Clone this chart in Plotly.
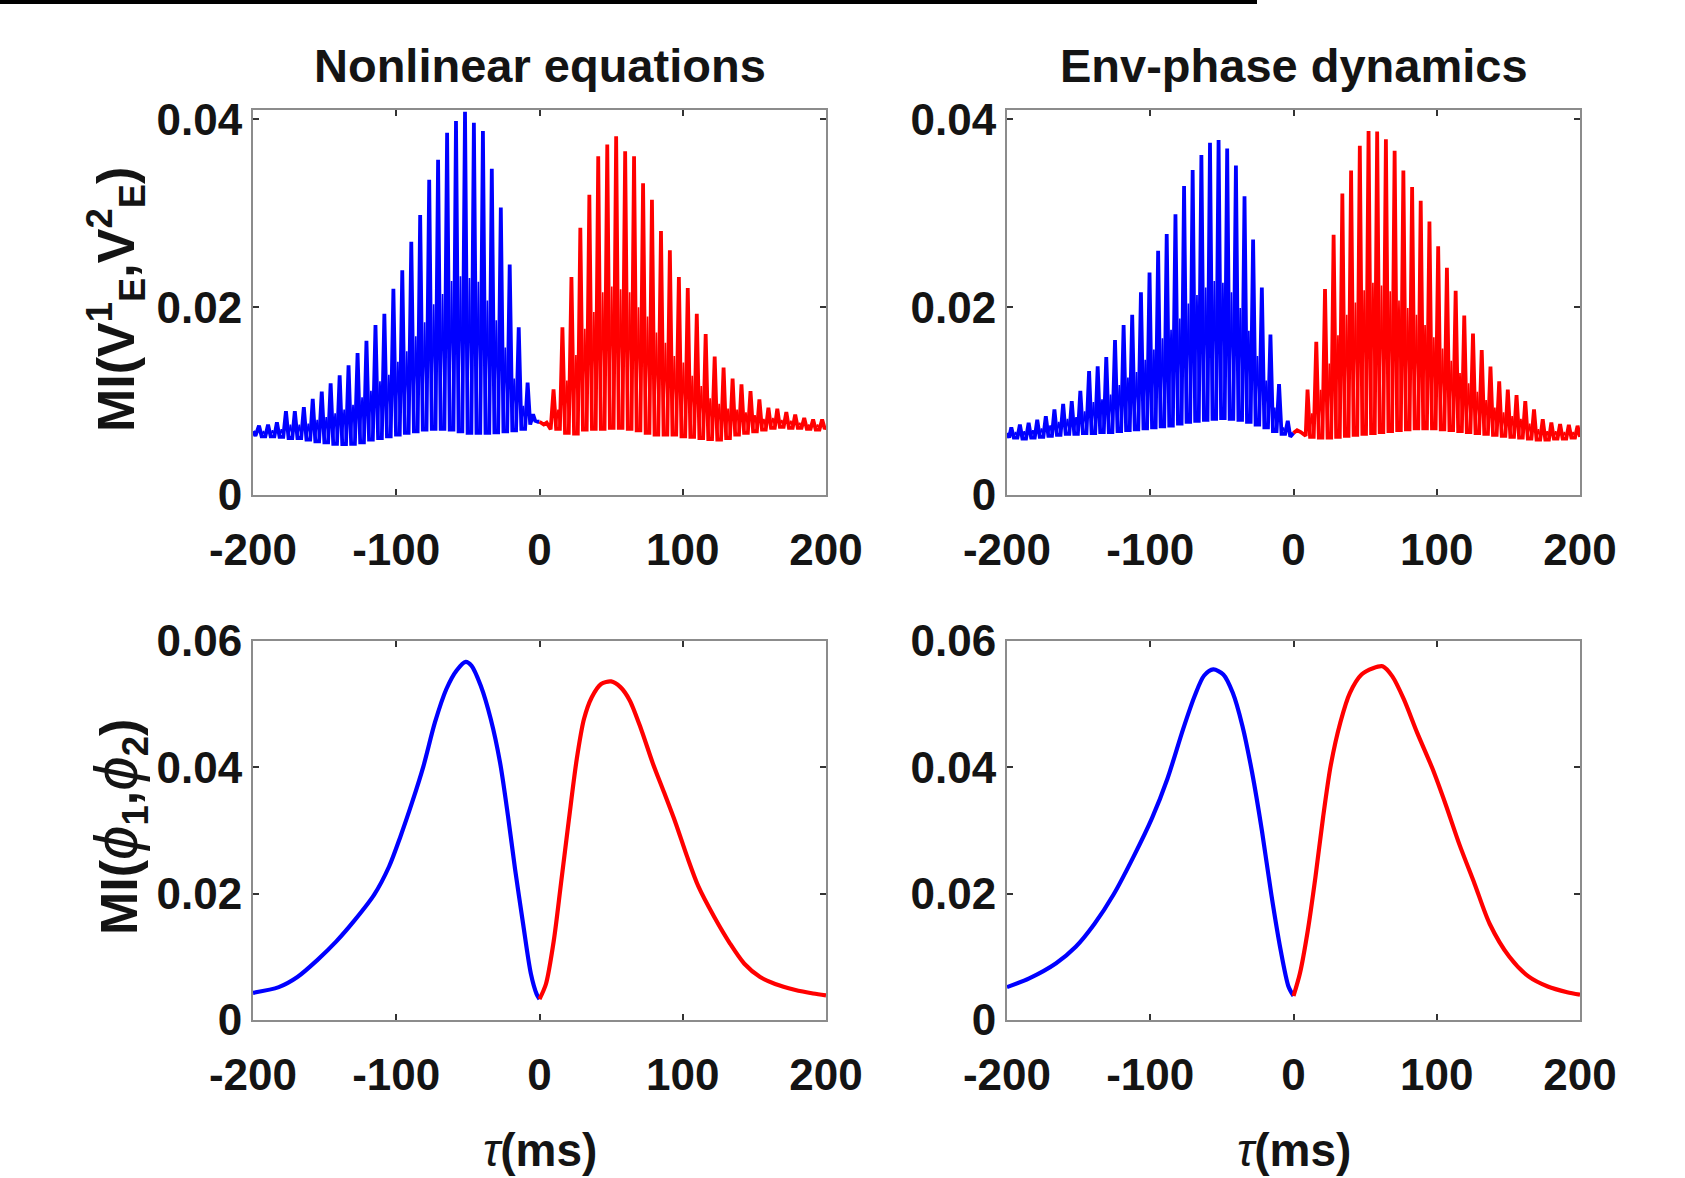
import plotly.graph_objects as go

# ---------------- data ----------------
# Top-left panel (Nonlinear equations), MI(V_E^1, V_E^2)
tl_blue_head_tau = [-200.0, -198.3]
tl_blue_head = [0.0068, 0.0063]
tl_blue_peak_tau = [-195.8, -189.5, -183.3, -177.0, -170.8, -164.5, -158.3, -152.0, -145.8, -139.5,
                    -133.3, -127.0, -120.8, -114.5, -108.3, -102.0, -95.8, -89.5, -83.3, -77.0,
                    -70.8, -64.5, -58.3, -52.0, -45.8, -39.5, -33.3, -27.0, -20.8, -14.5, -8.3]
tl_blue_peak = [0.00739, 0.00750, 0.00775, 0.00893, 0.00893, 0.00936, 0.01025, 0.01100, 0.01189, 0.01275,
                0.01382, 0.01511, 0.01643, 0.01811, 0.01929, 0.02196, 0.02393, 0.02696, 0.02982, 0.03357,
                0.03571, 0.03857, 0.03982, 0.04082, 0.03964, 0.03875, 0.03475, 0.03061, 0.02454, 0.01786, 0.01196]
tl_blue_trough = [0.00625, 0.00625, 0.00618, 0.00607, 0.00607, 0.00589, 0.00571, 0.00561, 0.00546, 0.00543,
                  0.00546, 0.00561, 0.00589, 0.00607, 0.00625, 0.00643, 0.00661, 0.00679, 0.00696, 0.00704,
                  0.00704, 0.00696, 0.00679, 0.00661, 0.00661, 0.00661, 0.00668, 0.00679, 0.00689, 0.00704, 0.00750]
tl_blue_hump = [0.0068, 0.0069, 0.0070, 0.0075, 0.0075, 0.0076, 0.0080, 0.0083, 0.0087, 0.0091,
                0.0096, 0.0104, 0.0111, 0.0121, 0.0128, 0.0142, 0.0153, 0.0169, 0.0184, 0.0203,
                0.0214, 0.0228, 0.0233, 0.0231, 0.0227, 0.0207, 0.0186, 0.0157, 0.0124, 0.0095]
tl_blue_tail_tau = [-4.5, -3.0, -1.0, 0.0]
tl_blue_tail = [0.0086, 0.0079, 0.0078, 0.0078]

tl_red_head_tau = [0.0, 3.0, 5.0, 7.8]
tl_red_head = [0.0078, 0.0075, 0.0077, 0.0070]
tl_red_peak_tau = [9.8, 16.0, 22.3, 28.5, 34.8, 41.0, 47.3, 53.5, 59.8, 66.0,
                   72.3, 78.5, 84.8, 91.0, 97.3, 103.5, 109.8, 116.0, 122.3, 128.5,
                   134.8, 141.0, 147.3, 153.5, 159.8, 166.0, 172.3, 178.5, 184.8, 191.0, 197.3]
tl_red_peak = [0.01125, 0.01786, 0.02321, 0.02846, 0.03196, 0.03607, 0.03732, 0.03821, 0.03661, 0.03607,
               0.03321, 0.03143, 0.02811, 0.02607, 0.02321, 0.02204, 0.01929, 0.01714, 0.01475, 0.01357,
               0.01239, 0.01179, 0.01107, 0.01018, 0.00929, 0.00918, 0.00882, 0.00857, 0.00821, 0.00804, 0.00804]
tl_red_trough = [0.00704, 0.00661, 0.00654, 0.00696, 0.00704, 0.00704, 0.00714, 0.00714, 0.00704, 0.00689,
                 0.00661, 0.00643, 0.00643, 0.00643, 0.00625, 0.00618, 0.00607, 0.00596, 0.00589, 0.00607,
                 0.00643, 0.00661, 0.00679, 0.00696, 0.00714, 0.00725, 0.00714, 0.00714, 0.00704, 0.00696, 0.00704]
tl_red_hump = [0.0091, 0.0122, 0.0149, 0.0177, 0.0195, 0.0216, 0.0222, 0.0219, 0.0216, 0.0200,
               0.0190, 0.0173, 0.0162, 0.0148, 0.0141, 0.0127, 0.0116, 0.0103, 0.0097, 0.0092,
               0.0091, 0.0088, 0.0085, 0.0081, 0.0082, 0.0080, 0.0079, 0.0077, 0.0075, 0.0075]
tl_red_tail_tau = [200.0]
tl_red_tail = [0.0072]

# Top-right panel (Env-phase dynamics)
tr_blue_head_tau = [-200.0, -198.5]
tr_blue_head = [0.0066, 0.0061]
tr_blue_peak_tau = [-197.0, -191.0, -184.9, -178.9, -172.9, -166.9, -160.8, -154.8, -148.8, -142.7,
                    -136.7, -130.7, -124.6, -118.6, -112.6, -106.5, -100.5, -94.5, -88.5, -82.4,
                    -76.4, -70.4, -64.3, -58.3, -52.3, -46.3, -40.2, -34.2, -28.2, -22.1,
                    -16.1, -10.1, -4.0]
tr_blue_peak = [0.0072, 0.0075, 0.0077, 0.0080, 0.0084, 0.0091, 0.0097, 0.0100, 0.0111, 0.0132,
                0.0137, 0.0147, 0.0165, 0.0181, 0.0192, 0.0216, 0.0237, 0.0260, 0.0278, 0.0299,
                0.0329, 0.0346, 0.0362, 0.0375, 0.0378, 0.0369, 0.0351, 0.0318, 0.0272, 0.0221,
                0.0171, 0.0118, 0.0079]
tr_blue_trough = [0.0061, 0.0060, 0.0061, 0.0062, 0.0063, 0.0064, 0.0065, 0.0065, 0.0066, 0.0066,
                  0.0067, 0.0067, 0.0068, 0.0069, 0.0070, 0.0071, 0.0072, 0.0073, 0.0074, 0.0076,
                  0.0078, 0.0079, 0.0080, 0.0081, 0.0082, 0.0081, 0.0080, 0.0078, 0.0075, 0.0072,
                  0.0068, 0.0065, 0.0062]
tr_blue_hump = [0.0067, 0.0068, 0.0069, 0.0071, 0.0074, 0.0078, 0.0081, 0.0083, 0.0089, 0.0099,
                0.0102, 0.0107, 0.0117, 0.0125, 0.0131, 0.0144, 0.0155, 0.0167, 0.0176, 0.0188,
                0.0204, 0.0213, 0.0221, 0.0228, 0.0226, 0.0216, 0.0199, 0.0175, 0.0148, 0.0122,
                0.0093, 0.0072]
tr_blue_tail_tau = [0.0]
tr_blue_tail = [0.0066]

tr_red_head_tau = [0.0, 2.5, 5.0, 8.5]
tr_red_head = [0.0066, 0.0069, 0.0067, 0.0063]
tr_red_peak_tau = [9.8, 15.9, 22.0, 28.0, 34.1, 40.2, 46.3, 52.4, 58.4, 64.5,
                   70.6, 76.7, 82.8, 88.8, 94.9, 101.0, 107.1, 113.2, 119.2, 125.3,
                   131.4, 137.5, 143.6, 149.6, 155.7, 161.8, 167.9, 174.0, 180.0, 186.1,
                   192.2, 198.3]
tr_red_peak = [0.01123, 0.01632, 0.02193, 0.02772, 0.03211, 0.03456, 0.03719, 0.03877, 0.03870, 0.03789,
               0.03667, 0.03456, 0.03281, 0.03133, 0.02912, 0.02649, 0.02421, 0.02175, 0.01912, 0.01719,
               0.01544, 0.01368, 0.01211, 0.01123, 0.01063, 0.01000, 0.00912, 0.00807, 0.00772, 0.00754,
               0.00747, 0.00737]
tr_red_trough = [0.0062, 0.0061, 0.0061, 0.0062, 0.0063, 0.0064, 0.0065, 0.0066, 0.0067, 0.0068,
                 0.0069, 0.0070, 0.0071, 0.0071, 0.0071, 0.0070, 0.0069, 0.0068, 0.0067, 0.0066,
                 0.0065, 0.0064, 0.0063, 0.0062, 0.0061, 0.0060, 0.0059, 0.0059, 0.0060, 0.0060,
                 0.0061, 0.0062]
tr_red_hump = [0.0087, 0.0112, 0.0140, 0.0170, 0.0192, 0.0205, 0.0218, 0.0226, 0.0223, 0.0217,
               0.0207, 0.0199, 0.0192, 0.0181, 0.0168, 0.0156, 0.0143, 0.0130, 0.0119, 0.0110,
               0.0101, 0.0093, 0.0088, 0.0084, 0.0081, 0.0076, 0.0070, 0.0068, 0.0068, 0.0067,
               0.0067]
tr_red_tail_tau = [200.0]
tr_red_tail = [0.0064]

# Bottom-left panel (Nonlinear equations), MI(phi_1, phi_2)
bl_blue_tau = [-200, -182, -169, -155.5, -142, -129, -115.5, -105, -97, -89, -81, -73, -65, -58,
               -51.5, -47.5, -41, -34, -27.5, -22, -17, -11.5, -6, -2, 0]
bl_blue = [0.0043, 0.0052, 0.0068, 0.0094, 0.0124, 0.0158, 0.0198, 0.0243, 0.0291, 0.0344, 0.0402,
           0.0471, 0.0524, 0.0553, 0.0567, 0.0561, 0.0529, 0.0476, 0.0407, 0.0323, 0.0238, 0.0153,
           0.0073, 0.0041, 0.0033]
bl_red_tau = [0, 4.5, 10, 15, 20.5, 26, 31, 36.5, 43, 50, 56.5, 63, 71, 79, 87, 95, 103, 111, 122,
              133, 143, 154, 164.5, 178, 191, 200]
bl_red = [0.0033, 0.0057, 0.0126, 0.0216, 0.0317, 0.0413, 0.0476, 0.0511, 0.0532, 0.0536, 0.0527,
          0.0506, 0.0460, 0.0407, 0.0360, 0.0312, 0.0259, 0.0211, 0.0163, 0.0121, 0.0089, 0.0068,
          0.0057, 0.0048, 0.0042, 0.0039]

# Bottom-right panel (Env-phase dynamics)
br_blue_tau = [-200, -184.5, -165.7, -152, -139, -125.5, -112, -98.7, -88, -77, -69, -62.5, -56, -49,
               -42.4, -35.7, -29, -22, -15.5, -9, -3.5, 0]
br_blue = [0.0052, 0.0066, 0.0090, 0.0116, 0.0152, 0.0199, 0.0257, 0.0320, 0.0382, 0.0461, 0.0513,
           0.0545, 0.0555, 0.0547, 0.0518, 0.0466, 0.0393, 0.0299, 0.0199, 0.0111, 0.0053, 0.0038]
br_red_tau = [0, 4.5, 10, 15.3, 20.6, 26, 32.7, 39.4, 47.5, 55.5, 62.2, 69, 77, 86.3, 97, 106.4,
              115.8, 126.5, 137, 150.7, 164, 177.5, 191, 200]
br_red = [0.0038, 0.0074, 0.0142, 0.0226, 0.0320, 0.0403, 0.0471, 0.0518, 0.0547, 0.0557, 0.0560,
          0.0544, 0.0508, 0.0455, 0.0398, 0.0340, 0.0278, 0.0215, 0.0152, 0.0100, 0.0069, 0.0053,
          0.0044, 0.0040]

# tick labels / titles
x_tickvals = [-200, -100, 0, 100, 200]
x_ticktext = ["-200", "-100", "0", "100", "200"]
y_top_tickvals = [0, 0.02, 0.04]
y_top_ticktext = ["0", "0.02", "0.04"]
y_bot_tickvals = [0, 0.02, 0.04, 0.06]
y_bot_ticktext = ["0", "0.02", "0.04", "0.06"]
col_titles = ["Nonlinear equations", "Env-phase dynamics"]


# ---------------- helpers ----------------
def spikes(head_tau, head, pk_tau, pk, tr, period, tail_tau, tail):
    """Main strokes of the curve: each cycle's tall peak and the trough level around it."""
    xs, ys = list(head_tau), list(head)
    n = len(pk_tau)
    for i in range(n):
        p = pk_tau[i]
        xs.append(p); ys.append(pk[i])
        xs.append(p + 0.29 * period); ys.append(tr[i])
        if i < n - 1:
            xs.append(p + 0.71 * period); ys.append(tr[i])
    xs += list(tail_tau); ys += list(tail)
    return xs, ys


def humps(pk_tau, tr, hm, period):
    """Secondary (smaller) hump of each cycle, between two tall peaks."""
    xs, ys = [], []
    for i in range(len(hm)):
        p = pk_tau[i]
        xs += [p + 0.27 * period, p + 0.5 * period, p + 0.73 * period, None]
        ys += [tr[i], hm[i], tr[i], None]
    return xs, ys


BLUE = "#0000ff"
RED = "#ff0000"
FONT = "Liberation Sans, Arial, Helvetica, sans-serif"
INK = "#141414"

fig = go.Figure()

top_series = [
    (tl_blue_head_tau, tl_blue_head, tl_blue_peak_tau, tl_blue_peak, tl_blue_trough, tl_blue_hump,
     6.25, tl_blue_tail_tau, tl_blue_tail, BLUE, "x", "y"),
    (tl_red_head_tau, tl_red_head, tl_red_peak_tau, tl_red_peak, tl_red_trough, tl_red_hump,
     6.25, tl_red_tail_tau, tl_red_tail, RED, "x", "y"),
    (tr_blue_head_tau, tr_blue_head, tr_blue_peak_tau, tr_blue_peak, tr_blue_trough, tr_blue_hump,
     6.03, tr_blue_tail_tau, tr_blue_tail, BLUE, "x2", "y2"),
    (tr_red_head_tau, tr_red_head, tr_red_peak_tau, tr_red_peak, tr_red_trough, tr_red_hump,
     6.08, tr_red_tail_tau, tr_red_tail, RED, "x2", "y2"),
]
for (ht, h, pt, pk, tr, hm, T, tt, tl, col, xa, ya) in top_series:
    hx, hy = humps(pt, tr, hm, T)
    fig.add_trace(go.Scatter(x=hx, y=hy, mode="lines", line=dict(color=col, width=1.7),
                             connectgaps=False, xaxis=xa, yaxis=ya, showlegend=False, hoverinfo="skip"))
    sx, sy = spikes(ht, h, pt, pk, tr, T, tt, tl)
    fig.add_trace(go.Scatter(x=sx, y=sy, mode="lines", line=dict(color=col, width=3.8),
                             xaxis=xa, yaxis=ya, showlegend=False, hoverinfo="skip"))

for xs, ys, col, xa, ya in [
    (bl_blue_tau, bl_blue, BLUE, "x3", "y3"),
    (bl_red_tau, bl_red, RED, "x3", "y3"),
    (br_blue_tau, br_blue, BLUE, "x4", "y4"),
    (br_red_tau, br_red, RED, "x4", "y4"),
]:
    fig.add_trace(go.Scatter(x=xs, y=ys, mode="lines",
                             line=dict(color=col, width=4.2, shape="spline", smoothing=0.8),
                             xaxis=xa, yaxis=ya, showlegend=False, hoverinfo="skip"))

W, H = 1685, 1178
colx = [(253 / W, 826 / W), (1007 / W, 1580 / W)]
rowy = [(1 - 495 / H, 1 - 110 / H), (1 - 1020 / H, 1 - 641 / H)]

tickfont = dict(family=FONT, size=44, color=INK, weight="bold")
common = dict(showline=True, linecolor="#8c8c8c", linewidth=2, mirror="ticks",
              ticks="inside", ticklen=6, tickwidth=1.5, tickcolor="#333333",
              showgrid=False, zeroline=False, tickfont=tickfont, fixedrange=True,
              automargin=False)

layout_axes = {}
axnames = [("xaxis", "yaxis", 0, 0), ("xaxis2", "yaxis2", 1, 0),
           ("xaxis3", "yaxis3", 0, 1), ("xaxis4", "yaxis4", 1, 1)]
for i, (xn, yn, c, r) in enumerate(axnames):
    anchor_y = "y" if i == 0 else "y%d" % (i + 1)
    anchor_x = "x" if i == 0 else "x%d" % (i + 1)
    layout_axes[xn] = dict(domain=list(colx[c]), anchor=anchor_y, range=[-200, 200],
                           tickmode="array", tickvals=x_tickvals, ticktext=x_ticktext,
                           ticklabelstandoff=15, **common)
    if r == 0:
        yv, yt, yr = y_top_tickvals, y_top_ticktext, [0, 0.041]
    else:
        yv, yt, yr = y_bot_tickvals, y_bot_ticktext, [0, 0.06]
    layout_axes[yn] = dict(domain=list(rowy[r]), anchor=anchor_x, range=yr,
                           tickmode="array", tickvals=yv, ticktext=yt,
                           ticklabelstandoff=0, **common)

annotations = []
title_font = dict(family=FONT, size=47, color=INK, weight="bold")
for c in range(2):
    cx = (colx[c][0] + colx[c][1]) / 2
    annotations.append(dict(text=col_titles[c], x=cx, y=1 - 65 / H, xref="paper", yref="paper",
                            xanchor="center", yanchor="middle", showarrow=False, font=title_font))
    annotations.append(dict(text="<span style='font-weight:normal'><i>τ</i></span>(ms)",
                            x=cx, y=1 - 1150 / H,
                            xref="paper", yref="paper", xanchor="center", yanchor="middle",
                            showarrow=False, font=dict(family=FONT, size=46, color=INK, weight="bold")))

ylab_font = dict(family=FONT, size=52, color=INK, weight="bold")
annotations.append(dict(text="MI(V<sup>1</sup><sub>E</sub>,V<sup>2</sup><sub>E</sub>)",
                        x=116 / W, y=1 - 300 / H, xref="paper", yref="paper",
                        xanchor="center", yanchor="middle", textangle=-90, showarrow=False, font=ylab_font))
annotations.append(dict(text="MI(<span style='font-weight:normal;font-size:62px'><i>ϕ</i></span><sub>1</sub>,"
                             "<span style='font-weight:normal;font-size:62px'><i>ϕ</i></span><sub>2</sub>)",
                        x=118 / W, y=1 - 827 / H, xref="paper", yref="paper",
                        xanchor="center", yanchor="middle", textangle=-90, showarrow=False, font=ylab_font))

fig.update_layout(
    width=W, height=H, autosize=False,
    margin=dict(l=0, r=0, t=0, b=0, pad=0, autoexpand=False),
    paper_bgcolor="white", plot_bgcolor="white",
    annotations=annotations,
    shapes=[dict(type="rect", xref="paper", yref="paper", x0=0, x1=1257 / W, y0=1 - 4 / H, y1=1,
                 fillcolor="black", line=dict(width=0))],
    **layout_axes,
)

fig.write_html("out.html", config={"displayModeBar": False},
               post_script="document.body.style.margin='0px';")
